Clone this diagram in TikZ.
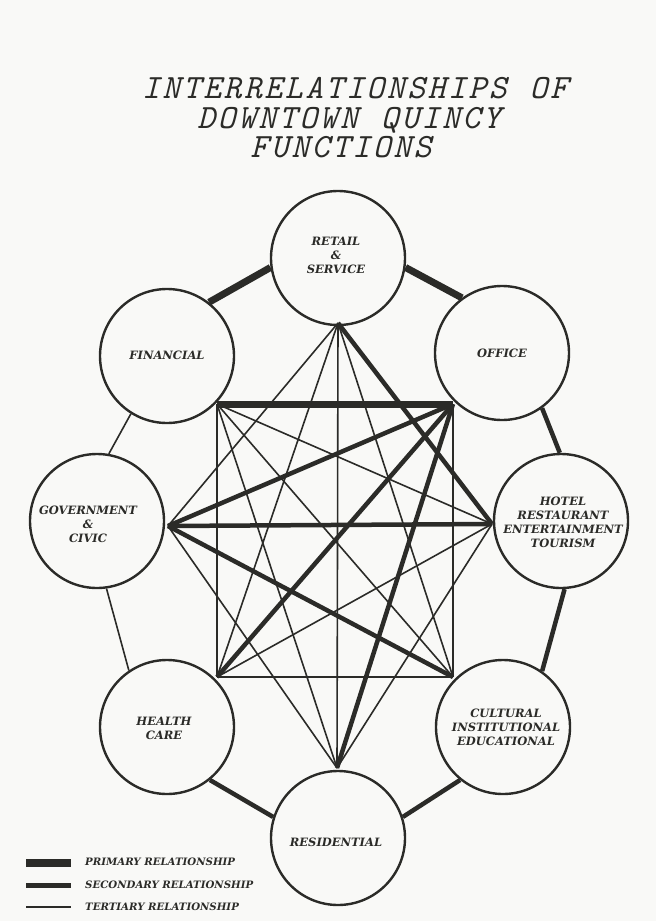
\documentclass[tikz,border=0pt]{standalone}
\usepackage{fontspec}
\newfontfamily\labelfont{DejaVu Serif}
\definecolor{inkc}{HTML}{2B2B28}
\definecolor{bgc}{HTML}{F9F9F7}
\makeatletter
\newcommand\spreadword[1]{\@tfor\spreadchar:=#1\do{\makebox[20.4pt]{\spreadchar}}}
\makeatother
\newcommand\spreadgap{\hspace*{20.4pt}}
\begin{document}
\begin{tikzpicture}[x=1pt,y=-1pt,
  func/.style={circle, draw=inkc, line width=2.4pt, fill=bgc, minimum size=134pt, inner sep=0pt},
  lbl/.style={font=\labelfont\bfseries\itshape\fontsize{11.5}{14}\selectfont, align=center, text=inkc, inner sep=0pt},
  leglbl/.style={font=\labelfont\bfseries\itshape\fontsize{10.2}{11}\selectfont, text=inkc, inner sep=0pt, anchor=west},
  ttl/.style={font=\ttfamily\itshape\fontsize{34}{30}\selectfont, text=inkc, inner sep=0pt, anchor=base, text height=21pt, text depth=1pt},
  primrel/.style={draw=inkc, line width=7pt},
  secrel/.style={draw=inkc, line width=4.5pt},
  terrel/.style={draw=inkc, line width=1.6pt}
]
\fill[bgc] (0,0) rectangle (656,921);
\useasboundingbox (0,0) rectangle (656,921);

% title
\node[ttl] (t1) at (355,98) {\spreadword{INTERRELATIONSHIPS}\spreadgap\spreadword{OF}};
\node[ttl] (t2) at (349,128) {\spreadword{DOWNTOWN}\spreadgap\spreadword{QUINCY}};
\node[ttl] (t3) at (341,157) {\spreadword{FUNCTIONS}};

% function circles
\node[func] (R)   at (338,258) {};
\node[func] (F)   at (167,356) {};
\node[func] (O)   at (502,353) {};
\node[func] (G)   at (97,521)  {};
\node[func] (H)   at (561,521) {};
\node[func] (HC)  at (167,727) {};
\node[func] (C)   at (503,727) {};
\node[func] (Res) at (338,838) {};

% inner meeting points
\coordinate (pR)   at (338,323);
\coordinate (pF)   at (217,404);
\coordinate (pO)   at (453,404);
\coordinate (pG)   at (168,526);
\coordinate (pH)   at (492,524);
\coordinate (pHC)  at (217,677);
\coordinate (pC)   at (453,677);
\coordinate (pRes) at (337,768);

% tertiary chords
\draw[terrel] (pR) -- (pG);
\draw[terrel] (pR) -- (pHC);
\draw[terrel] (pR) -- (pC);
\draw[terrel] (pR) -- (pRes);
\draw[terrel] (pF) -- (pH);
\draw[terrel] (pF) -- (pHC);
\draw[terrel] (pF) -- (pC);
\draw[terrel] (pF) -- (pRes);
\draw[terrel] (pO) -- (pC);
\draw[terrel] (pG) -- (pRes);
\draw[terrel] (pH) -- (pHC);
\draw[terrel] (pH) -- (pRes);
\draw[terrel] (pHC) -- (pC);
% secondary chords
\draw[secrel] (pR) -- (pH);
\draw[secrel] (pO) -- (pG);
\draw[secrel] (pG) -- (pH);
\draw[secrel] (pG) -- (pC);
\draw[secrel] (pO) -- (pHC);
\draw[secrel] (pO) -- (pRes);
% primary chord
\draw[primrel] (pF) -- (pO);

% ring connectors
\draw[primrel] (F.52) -- (R.188);
\draw[primrel] (R.352) -- (O.126);
\draw[secrel] (O.306) -- (H.91);
\draw[secrel] (H.273) -- (C.55);
\draw[secrel] (C.231) -- (Res.18);
\draw[secrel] (HC.309) -- (Res.162);
\draw[terrel] (F.238) -- (G.80);
\draw[terrel] (G.278) -- (HC.124);

% circle labels
\node[lbl] (lR)   at (336,255) {RETAIL\\\&\\SERVICE};
\node[lbl] (lF)   at (167,355) {FINANCIAL};
\node[lbl] (lO)   at (502,353) {OFFICE};
\node[lbl] (lG)   at (88,524)  {GOVERNMENT\\\&\\CIVIC};
\node[lbl] (lH)   at (563,522) {HOTEL\\RESTAURANT\\ENTERTAINMENT\\TOURISM};
\node[lbl] (lHC)  at (164,728) {HEALTH\\CARE};
\node[lbl] (lC)   at (506,727) {CULTURAL\\INSTITUTIONAL\\EDUCATIONAL};
\node[lbl] (lRes) at (336,842) {RESIDENTIAL};

% legend
\coordinate (a1) at (26,863);   \coordinate (b1) at (71,863);
\coordinate (a2) at (26,885.5); \coordinate (b2) at (71,885.5);
\coordinate (a3) at (26,907);   \coordinate (b3) at (71,907);
\draw[draw=inkc, line width=8pt] (a1) -- (b1);
\draw[secrel] (a2) -- (b2);
\draw[terrel] (a3) -- (b3);
\node[leglbl] (g1) at (85,862) {PRIMARY RELATIONSHIP};
\node[leglbl] (g2) at (85,884.5) {SECONDARY RELATIONSHIP};
\node[leglbl] (g3) at (85,907) {TERTIARY RELATIONSHIP};
\end{tikzpicture}
\end{document}
